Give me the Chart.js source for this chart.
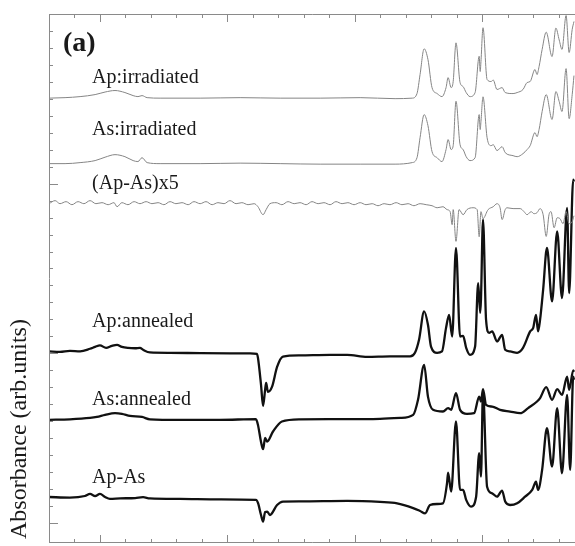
<!DOCTYPE html>
<html>
<head>
<meta charset="utf-8">
<script src="https://cdn.jsdelivr.net/npm/chart.js@4.4.1/dist/chart.umd.min.js"></script>
<style>
  body { margin: 0; background: #fff; }
  #wrap { width: 575px; height: 546px; position: relative; }
</style>
</head>
<body>
<div id="wrap"><canvas id="chart1"></canvas></div>
<script>
// spectra, arbitrary units (x: 10 units per minor tick, y: 10 units per minor tick)
const apIrrX = [0, 6.3, 12.2, 18.1, 22.0, 25.9, 29.8, 33.0, 34.9, 36.5, 38.5, 43.6, 59.3, 75.0, 90.7, 106.4, 122.1, 135.8, 142.5, 144.4, 145.6, 147.2, 148.7, 150.3, 152.3, 154.2, 155.8, 156.6, 157.8, 158.6, 159.7, 161.3, 162.5, 163.7, 165.2, 167.2, 168.8, 169.2, 169.5, 170.3, 171.9, 173.5, 174.3, 175.8, 177.8, 179.0, 182.1, 183.7, 186.0, 187.6, 188.8, 190.7, 191.5, 192.3, 193.5, 195.1, 197.4, 198.9, 200.2, 201.3, 202.9, 204.1, 205.3, 206.0];
const apIrrY = [250.4, 250.7, 251.3, 252.5, 254.0, 254.9, 253.7, 251.9, 251.3, 251.9, 250.7, 250.4, 250.4, 250.7, 250.4, 250.4, 250.7, 250.1, 250.4, 253.1, 264.3, 279.5, 273.2, 256.6, 253.1, 251.3, 256.6, 262.5, 256.6, 260.2, 283.0, 259.6, 257.2, 253.7, 251.3, 253.7, 275.1, 266.1, 272.0, 291.9, 261.4, 260.2, 261.1, 255.5, 256.6, 253.7, 253.1, 253.7, 255.5, 259.6, 260.2, 267.3, 264.3, 269.0, 279.1, 289.3, 274.9, 291.7, 284.7, 279.1, 299.1, 277.3, 290.9, 295.6];

const asIrrX = apIrrX;
const asIrrY = [211.8, 211.8, 212.4, 213.6, 215.6, 217.1, 215.9, 213.6, 213.0, 215.3, 212.4, 211.8, 211.8, 212.1, 211.8, 211.5, 211.5, 211.5, 212.4, 215.3, 227.1, 240.7, 234.2, 218.9, 215.3, 213.0, 220.1, 226.0, 220.1, 222.4, 248.6, 223.0, 220.1, 215.9, 213.6, 215.3, 240.7, 231.9, 236.6, 251.2, 227.1, 222.4, 223.0, 219.5, 221.8, 218.3, 216.5, 215.9, 217.7, 220.1, 222.4, 230.1, 227.7, 231.9, 242.5, 252.5, 237.8, 254.3, 248.4, 242.5, 267.8, 238.3, 252.5, 263.7];

const diffX = [0, 2.4, 4.3, 6.7, 9.0, 11.4, 13.7, 16.1, 18.4, 20.8, 23.2, 25.5, 26.7, 28.6, 31.0, 33.4, 35.7, 38.1, 40.4, 42.8, 45.1, 47.5, 49.8, 52.2, 54.6, 56.9, 59.3, 61.6, 64.0, 66.3, 68.7, 71.0, 73.4, 75.7, 78.1, 80.5, 82.0, 84.0, 85.2, 86.7, 89.1, 91.4, 93.8, 96.2, 98.5, 100.9, 103.2, 105.6, 107.9, 110.3, 112.6, 115.0, 117.3, 119.7, 122.1, 124.4, 126.8, 129.1, 131.5, 133.8, 136.2, 138.5, 140.9, 143.2, 145.6, 148.0, 150.3, 152.3, 154.6, 156.2, 157.4, 158.2, 158.6, 159.7, 160.9, 162.5, 164.0, 166.4, 168.0, 168.8, 169.5, 170.3, 172.3, 174.3, 175.8, 177.0, 177.8, 179.0, 179.7, 182.1, 184.9, 186.4, 187.6, 189.2, 190.3, 191.5, 192.7, 193.9, 195.1, 196.2, 197.0, 198.2, 199.4, 200.5, 201.7, 202.9, 204.1, 205.3, 206.0];
const diffY = [188.2, 190.0, 188.2, 189.4, 187.6, 189.4, 188.2, 190.0, 188.2, 188.8, 187.6, 188.8, 186.4, 188.8, 187.6, 189.4, 188.2, 189.4, 188.2, 188.8, 187.6, 189.4, 188.2, 188.8, 187.6, 189.4, 188.2, 189.4, 187.6, 188.8, 188.2, 190.0, 188.2, 188.8, 187.6, 188.2, 186.4, 181.7, 184.7, 188.2, 188.8, 187.6, 189.4, 188.2, 188.8, 187.6, 189.4, 188.2, 188.8, 187.6, 189.4, 188.2, 188.8, 187.6, 188.8, 187.6, 188.2, 187.0, 188.2, 187.6, 188.8, 187.6, 188.2, 187.0, 188.2, 187.6, 187.0, 185.8, 186.4, 184.7, 183.5, 175.8, 184.7, 166.0, 184.7, 181.7, 184.7, 185.8, 184.7, 168.7, 183.5, 179.4, 184.7, 186.4, 188.2, 185.8, 178.8, 184.7, 185.8, 185.3, 185.3, 183.5, 181.7, 183.5, 182.3, 182.9, 185.3, 181.7, 168.9, 181.7, 183.5, 174.0, 179.9, 179.4, 176.4, 183.5, 176.4, 177.6, 181.1];

const apAnnX = [0, 4.3, 8.2, 12.2, 16.1, 18.1, 20.0, 22.4, 24.7, 26.7, 28.6, 31.0, 33.8, 35.7, 36.9, 39.6, 47.5, 59.3, 71.0, 78.9, 81.6, 82.0, 83.2, 84.0, 84.8, 85.2, 85.9, 87.5, 89.5, 91.8, 98.5, 110.3, 117.0, 124.8, 133.8, 141.7, 143.6, 145.2, 147.2, 148.7, 149.9, 152.3, 154.2, 155.8, 157.0, 158.2, 159.7, 161.3, 162.5, 163.7, 165.2, 167.2, 168.4, 169.2, 169.5, 170.3, 171.5, 172.7, 173.9, 175.8, 177.8, 179.0, 180.9, 183.7, 186.0, 188.8, 190.0, 191.1, 191.9, 192.7, 193.9, 195.4, 197.4, 199.4, 201.3, 203.3, 204.1, 205.7, 206.0];
const apAnnY = [101.1, 100.9, 101.5, 101.2, 102.7, 103.8, 104.7, 103.2, 104.4, 105.0, 103.8, 103.2, 103.0, 103.2, 102.1, 100.5, 100.3, 100.1, 100.0, 100.0, 99.7, 97.3, 81.4, 69.0, 78.5, 82.6, 77.3, 80.2, 92.0, 98.1, 98.8, 99.1, 99.1, 97.9, 98.2, 98.2, 100.3, 108.0, 124.7, 116.8, 104.0, 100.3, 101.1, 115.0, 122.7, 109.9, 162.1, 109.9, 110.3, 103.2, 99.1, 104.0, 141.4, 123.9, 131.6, 178.8, 119.8, 112.1, 112.9, 107.0, 110.9, 102.1, 101.1, 100.3, 103.2, 112.9, 115.0, 122.7, 112.9, 119.8, 137.5, 162.1, 130.6, 171.9, 132.6, 185.7, 135.5, 202.4, 201.2];

const asAnnX = [0, 8.2, 16.1, 18.8, 22.0, 25.9, 28.6, 31.8, 36.5, 39.6, 51.4, 67.1, 81.2, 82.0, 83.2, 84.0, 84.8, 85.6, 87.9, 91.4, 98.5, 114.2, 129.9, 137.8, 142.9, 144.8, 147.2, 148.7, 150.7, 154.6, 156.6, 157.8, 159.7, 161.3, 164.0, 166.8, 168.8, 169.5, 170.3, 171.5, 173.9, 177.0, 180.9, 184.9, 188.0, 191.5, 192.7, 195.1, 197.4, 199.4, 201.3, 203.3, 204.1, 205.7, 206.0];
const asAnnY = [60.8, 61.1, 61.9, 62.5, 63.7, 64.7, 64.3, 63.1, 62.5, 61.1, 60.8, 60.8, 61.2, 57.8, 47.8, 43.5, 50.1, 48.0, 53.9, 59.8, 61.1, 61.2, 61.4, 61.9, 63.7, 72.6, 93.2, 74.5, 66.7, 65.7, 67.7, 66.7, 76.5, 66.7, 64.3, 64.7, 74.5, 71.6, 78.9, 69.6, 68.6, 66.7, 65.7, 64.7, 67.7, 71.6, 73.6, 80.1, 72.6, 78.9, 75.5, 86.3, 78.5, 89.9, 89.1];

const apAsX = [0, 8.2, 14.1, 16.1, 18.1, 20.0, 22.0, 23.9, 27.9, 33.8, 36.9, 39.6, 51.4, 67.1, 81.2, 82.0, 83.2, 84.0, 84.8, 85.6, 86.7, 89.5, 91.8, 98.5, 117.0, 129.9, 136.6, 142.9, 145.6, 147.6, 149.5, 152.3, 154.6, 156.2, 156.6, 157.8, 159.7, 161.3, 162.5, 163.7, 165.6, 167.6, 168.8, 169.5, 170.3, 171.9, 173.9, 175.8, 177.8, 179.0, 180.9, 183.7, 186.8, 189.6, 191.1, 191.9, 193.5, 195.4, 197.4, 199.4, 201.3, 203.3, 204.5, 205.7, 206.0];
const apAsY = [15.3, 15.0, 15.9, 17.1, 15.9, 17.1, 15.3, 14.2, 14.5, 14.7, 15.2, 14.5, 14.2, 13.9, 13.6, 11.8, 4.7, 0.8, 6.5, 6.7, 4.7, 10.6, 12.6, 12.7, 13.0, 12.4, 11.6, 8.8, 7.1, 5.7, 10.6, 11.2, 11.6, 23.6, 29.7, 18.5, 59.8, 19.5, 19.5, 13.6, 9.6, 15.5, 41.1, 27.3, 77.5, 21.4, 17.5, 15.5, 19.1, 12.6, 10.6, 11.6, 15.5, 19.5, 24.4, 19.5, 31.3, 55.9, 33.2, 67.7, 29.3, 75.5, 31.3, 86.3, 84.4];

const traceNames = ['Ap:irradiated', 'As:irradiated', '(Ap-As)x5', 'Ap:annealed', 'As:annealed', 'Ap-As'];
// label anchor (left x, baseline y) in data units
const labelX = [16.9, 16.9, 16.9, 16.9, 16.9, 16.9];
const labelY = [259.6, 228.9, 197.1, 115.6, 69.6, 23.6];

const xTicks = [];
for (let v = 0; v <= 200; v += 10) xTicks.push(v);
const xMajor = [20, 70, 120, 170];
const yTicks = [];
for (let v = 0; v <= 300; v += 10) yTicks.push(v);
const yMajor = [0, 100, 200, 300];

const pts = (xs, ys) => xs.map((x, i) => ({ x: x, y: ys[i] }));

const thin = { borderColor: '#858585', borderWidth: 1 };
const thick = { borderColor: '#111', borderWidth: 2.3 };

const frame = {
  id: 'frame',
  afterDatasetsDraw(chart) {
    const ctx = chart.ctx;
    const a = chart.chartArea;
    const xs = chart.scales.x, ys = chart.scales.y;
    ctx.save();
    ctx.strokeStyle = '#8a8a8a';
    ctx.lineWidth = 1;
    ctx.beginPath();
    ctx.moveTo(a.right, a.top + 0.5); ctx.lineTo(a.left + 0.5, a.top + 0.5);
    ctx.lineTo(a.left + 0.5, a.bottom - 0.5); ctx.lineTo(a.right, a.bottom - 0.5);
    ctx.stroke();
    ctx.beginPath();
    xTicks.forEach(v => {
      const px = Math.round(xs.getPixelForValue(v)) + 0.5;
      const len = xMajor.includes(v) ? 8 : 4;
      ctx.moveTo(px, a.top); ctx.lineTo(px, a.top + len);
      ctx.moveTo(px, a.bottom); ctx.lineTo(px, a.bottom - len);
    });
    yTicks.forEach(v => {
      const py = Math.round(ys.getPixelForValue(v)) + 0.5;
      const len = yMajor.includes(v) ? 9 : 4;
      ctx.moveTo(a.left, py); ctx.lineTo(a.left + len, py);
    });
    ctx.stroke();

    ctx.fillStyle = '#1a1a1a';
    ctx.textBaseline = 'alphabetic';
    ctx.textAlign = 'left';
    ctx.font = '20px "Liberation Serif", "Times New Roman", serif';
    traceNames.forEach((t, i) => {
      ctx.fillText(t, xs.getPixelForValue(labelX[i]), ys.getPixelForValue(labelY[i]));
    });
    ctx.font = 'bold 28px "Liberation Serif", "Times New Roman", serif';
    ctx.fillText('(a)', xs.getPixelForValue(5.5), ys.getPixelForValue(277.9));

    ctx.translate(26, a.bottom - 4);
    ctx.rotate(-Math.PI / 2);
    ctx.font = '24px "Liberation Serif", "Times New Roman", serif';
    ctx.fillText('Absorbance (arb.units)', 0, 0);
    ctx.restore();
  }
};

new Chart(document.getElementById('chart1'), {
  type: 'line',
  data: {
    datasets: [
      { label: traceNames[0], data: pts(apIrrX, apIrrY), ...thin },
      { label: traceNames[1], data: pts(asIrrX, asIrrY), ...thin },
      { label: traceNames[2], data: pts(diffX, diffY), ...thin },
      { label: traceNames[3], data: pts(apAnnX, apAnnY), ...thick },
      { label: traceNames[4], data: pts(asAnnX, asAnnY), ...thick },
      { label: traceNames[5], data: pts(apAsX, apAsY), ...thick }
    ]
  },
  options: {
    responsive: true,
    maintainAspectRatio: false,
    animation: false,
    layout: { padding: { left: 49, top: 14, right: 0, bottom: 3 } },
    elements: {
      point: { radius: 0 },
      line: { cubicInterpolationMode: 'monotone', borderJoinStyle: 'round', fill: false }
    },
    plugins: { legend: { display: false }, tooltip: { enabled: false } },
    scales: {
      x: { type: 'linear', min: 0, max: 206.4, display: false },
      y: { type: 'linear', min: -11.8, max: 300, display: false }
    }
  },
  plugins: [frame]
});
</script>
</body>
</html>
